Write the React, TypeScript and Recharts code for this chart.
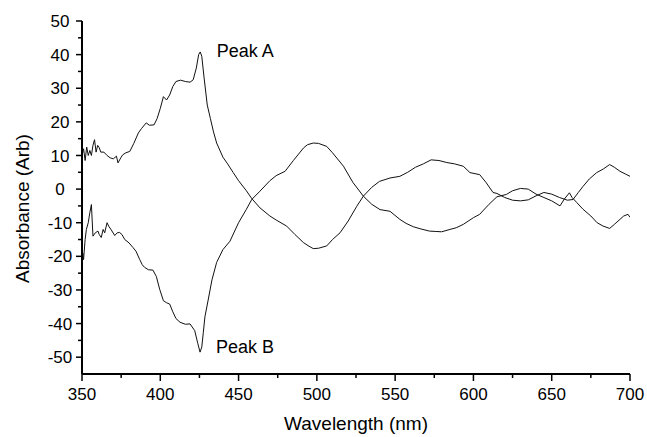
import { LineChart, Line, XAxis, YAxis, ReferenceDot } from 'recharts'

// wavelength (nm) and absorbance (arb)
const wlA = [
  350, 351, 352, 353, 354, 355, 356, 357, 358, 359, 360, 361, 362, 364, 366, 368, 370, 372, 373, 375,
  376, 378, 380.5, 383, 386, 388, 391, 393, 396, 398, 400, 402, 404, 406, 408, 410, 413, 416, 419, 421,
  423, 424.5, 425.5, 426.5, 428, 430, 432, 434, 436, 440, 443, 446.6, 450, 455, 458.4, 463.7, 470, 474,
  480.7, 486, 491.4, 495, 497.7, 501, 506.3, 510, 514.8, 520, 525.5, 529.7, 535, 540, 546.7, 553, 558,
  563, 568, 573, 578, 583, 588, 593.5, 597.8, 604, 608, 612.5, 615, 620, 625, 630, 635, 640, 645, 650,
  655, 660, 663.6, 667, 670, 674, 678.7, 683, 687, 690, 693.6, 697, 700,
]
const absA = [
  10, 12, 8.5, 12.5, 10, 11.5, 10, 13, 14.7, 11, 13, 12.3, 11, 11, 10, 9.3, 9, 9.8, 7.8, 9.5,
  10.2, 10.8, 11.2, 13.5, 16.7, 18, 19.7, 19, 19.1, 21, 24, 27.5, 26.5, 28, 30.5, 32, 32.4, 32, 31.8, 32.5,
  36, 40, 40.8, 39.5, 33, 25, 21, 17, 13.7, 9.5, 7.5, 4.9, 2.5, -0.5, -2.8, -5.6, -8, -9.2,
  -11, -13.5, -15.9, -17, -17.7, -17.6, -16.9, -15, -13, -9.5, -5.1, -2.1, 0.5, 2.3, 3.3, 3.8, 5,
  6.5, 7.5, 8.7, 8.5, 7.9, 7.5, 6.8, 4.9, 4.3, 2, -1, -1.3, -2.5, -3.3, -3.5, -3.2, -2, -1, -1.5,
  -2.5, -3.3, -3.1, -1, 0.8, 3, 4.9, 6, 7.3, 6.5, 5.3, 4.5, 3.8,
]

const wlB = [
  350, 350.5, 351, 352, 352.8, 354, 355, 356, 357, 358.5, 360.2, 361, 362.3, 363.5, 364.5, 366, 367, 368.5,
  370.9, 372.5, 374, 375.5, 377.3, 380, 382.6, 384.5, 386.8, 388.5, 390, 392.5, 395.3, 397.5, 399.6, 402,
  404, 406, 408, 410, 412.6, 416, 419, 422, 424, 425.4, 426.5, 427.5, 428.5, 430.7, 433, 436, 440, 444.5,
  450, 455, 458.4, 463.7, 470, 474, 479.7, 485, 491.4, 494, 497.7, 501, 506.3, 510, 517, 523, 529.7, 535,
  540.3, 546.7, 553, 557, 561.6, 566, 572, 576, 579.7, 585, 589, 593.5, 600, 604, 610, 615, 621, 625, 630,
  635, 640, 645, 650, 655.3, 658, 661.3, 663, 666, 670, 675, 679, 682.8, 687, 690, 693.6, 696, 698.7, 700,
]
const absB = [
  -23, -19, -21, -15, -12, -10, -7, -4.6, -14, -13, -12.5, -13.5, -14.4, -12, -13, -10, -11, -12,
  -13.8, -13, -12.9, -13.5, -15, -16, -17.4, -18.5, -20.9, -22.5, -23.3, -24, -24.1, -26, -29.8, -33.2,
  -33.8, -34.2, -36.5, -38.5, -39.6, -40.2, -40.1, -42.1, -46, -48.5, -47, -42.6, -38, -32.7, -27, -21.8, -18, -15.5,
  -10, -6, -3.1, -0.6, 2.5, 4, 5.3, 8.5, 12.2, 13.2, 13.7, 13.6, 12.7, 10.8, 6.8, 2, -2.1, -4.5,
  -6.1, -6.6, -9, -10.2, -11.2, -11.8, -12.5, -12.6, -12.7, -12, -11.5, -10.5, -8.5, -7.5, -4.5, -2.3, -1.6, -0.5, 0.2,
  0, -1.5, -2.5, -3.5, -5, -3, -1.1, -2.5, -4, -6, -8, -10, -11, -11.7, -10.5, -9, -8, -7.5, -8.4,
]

const xTicks = [350, 375, 400, 425, 450, 475, 500, 525, 550, 575, 600, 625, 650, 675, 700]
const yTicks = [-50, -45, -40, -35, -30, -25, -20, -15, -10, -5, 0, 5, 10, 15, 20, 25, 30, 35, 40, 45, 50]

const peaks = [
  { label: 'Peak A', wl: 436, abs: 39.2 },
  { label: 'Peak B', wl: 435.6, abs: -48.7 },
]

const seriesA = wlA.map((wl, i) => ({ wl, abs: absA[i] }))
const seriesB = wlB.map((wl, i) => ({ wl, abs: absB[i] }))

const font = '"Liberation Sans", Arial, sans-serif'

const YTick = ({ x, y, payload }: any) => {
  const major = payload.value % 10 === 0
  return (
    <g>
      <line x1={x - (major ? 6 : 4)} x2={x} y1={y} y2={y} stroke="#000" strokeWidth={1.5} />
      {major && (
        <text x={x - 22} y={y} dy="0.36em" textAnchor="middle" fontSize={17} fill="#000" fontFamily={font}>
          {payload.value}
        </text>
      )}
    </g>
  )
}

const XTick = ({ x, y, payload }: any) => {
  const major = payload.value % 50 === 0
  return (
    <g>
      <line x1={x} x2={x} y1={y} y2={y + (major ? 7 : 4)} stroke="#000" strokeWidth={1.5} />
      {major && (
        <text x={x} y={y + 26} textAnchor="middle" fontSize={17} fill="#000" fontFamily={font}>
          {payload.value}
        </text>
      )}
    </g>
  )
}

export default function App() {
  return (
    <div style={{ position: 'absolute', left: 0, top: 0, background: '#fff' }}>
      <LineChart width={647} height={437} margin={{ top: 21, right: 17, left: 22, bottom: 7 }}>
        <XAxis
          type="number"
          dataKey="wl"
          domain={[350, 700]}
          ticks={xTicks}
          interval={0}
          allowDataOverflow
          height={56}
          tickSize={0}
          tickMargin={0}
          tickLine={false}
          axisLine={{ stroke: '#000', strokeWidth: 2 }}
          tick={<XTick />}
          label={{
            value: 'Wavelength (nm)',
            position: 'insideBottom',
            offset: 0,
            fontSize: 19,
            fill: '#000',
            fontFamily: font,
          }}
        />
        <YAxis
          type="number"
          dataKey="abs"
          domain={[-55, 50]}
          ticks={yTicks}
          interval={0}
          allowDataOverflow
          width={60}
          tickSize={0}
          tickMargin={0}
          tickLine={false}
          axisLine={{ stroke: '#000', strokeWidth: 2 }}
          tick={<YTick />}
          label={{
            value: 'Absorbance (Arb)',
            angle: -90,
            position: 'insideLeft',
            offset: 0,
            dy: 11,
            textAnchor: 'middle',
            fontSize: 19,
            fill: '#000',
            fontFamily: font,
          }}
        />
        <Line
          data={seriesA}
          dataKey="abs"
          type="linear"
          stroke="#111"
          strokeWidth={1}
          dot={false}
          isAnimationActive={false}
        />
        <Line
          data={seriesB}
          dataKey="abs"
          type="linear"
          stroke="#111"
          strokeWidth={1}
          dot={false}
          isAnimationActive={false}
        />
        {peaks.map((p) => (
          <ReferenceDot
            key={p.label}
            x={p.wl}
            y={p.abs}
            r={0}
            shape={(s: any) => (
              <text x={s.cx} y={s.cy} fontSize={18} fill="#000" fontFamily={font}>
                {p.label}
              </text>
            )}
          />
        ))}
      </LineChart>
    </div>
  )
}
